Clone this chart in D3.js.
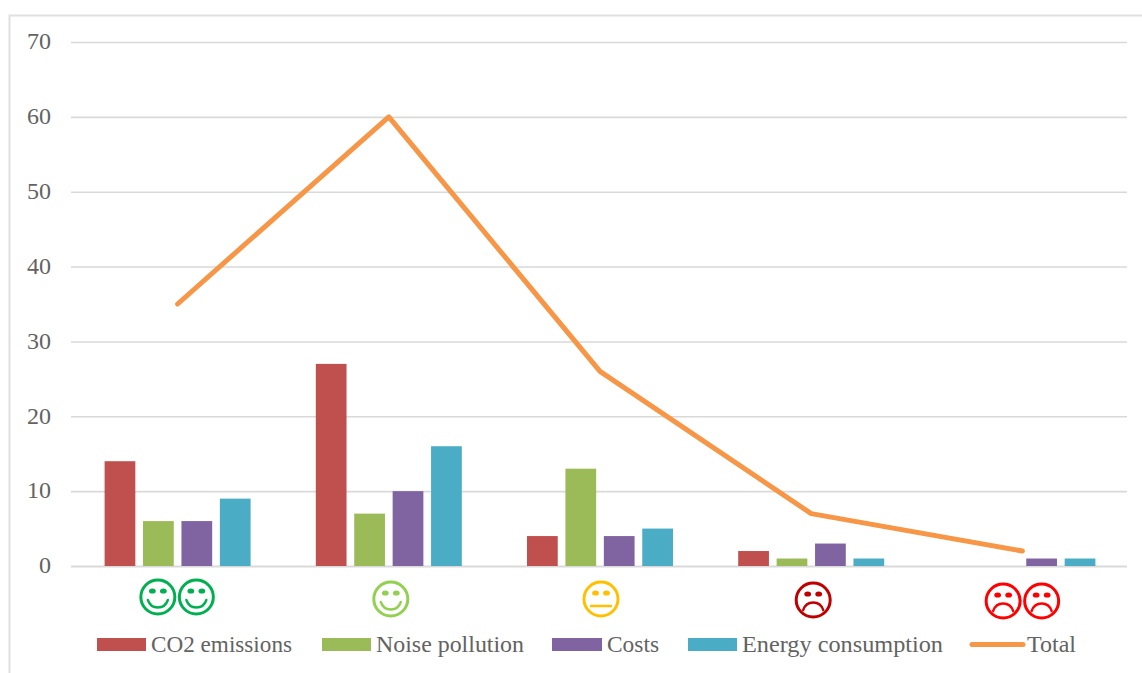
<!DOCTYPE html>
<html>
<head>
<meta charset="utf-8">
<script src="https://cdn.jsdelivr.net/npm/d3@7"></script>
<style>
  html, body { margin: 0; padding: 0; background: #fff; }
  svg { display: block; }
  text { font-family: "Liberation Serif", "DejaVu Serif", serif; fill: #636363; }
</style>
</head>
<body>
<svg id="chart" width="1142" height="673"></svg>
<script>
const moods = ["very good", "good", "neutral", "bad", "very bad"];
const seriesNames = ["CO2 emissions", "Noise pollution", "Costs", "Energy consumption"];
const co2Emissions = [14, 27, 4, 2, 0];
const noisePollution = [6, 7, 13, 1, 0];
const costs = [6, 10, 4, 3, 1];
const energyConsumption = [9, 16, 5, 1, 1];
const total = [35, 60, 26, 7, 2];
const yTicks = [0, 10, 20, 30, 40, 50, 60, 70];
const seriesColors = ["#c0504d", "#9bbb59", "#8064a2", "#4bacc6"];
const totalColor = "#f79646";
const moodFaces = [
  { shape: "happy", count: 2, color: "#00b050" },
  { shape: "happy", count: 1, color: "#92d050" },
  { shape: "neutral", count: 1, color: "#ffc000" },
  { shape: "sad", count: 1, color: "#c00000" },
  { shape: "sad", count: 2, color: "#ff0000" }
];
const seriesValues = [co2Emissions, noisePollution, costs, energyConsumption];

const svg = d3.select("#chart");
const x = d3.scaleBand().domain(moods).range([72, 1128]);
const y = d3.scaleLinear().domain([0, 70]).range([566, 42]);
const inner = d3.scaleBand().domain(seriesNames).range([-73, 73]).paddingInner(0.2);

// Chart frame: only the left and top edges fall inside the page
svg.append("path").attr("d", "M9.5,673V15.5H1142").attr("fill", "none")
  .attr("stroke", "#e0e0e0").attr("stroke-width", 2);

// Value axis with gridlines running the full plot width
const yAxis = svg.append("g").attr("transform", "translate(71,0)")
  .call(d3.axisLeft(y).tickValues(yTicks).tickSize(-1056).tickPadding(20));
yAxis.select(".domain").remove();
yAxis.selectAll(".tick line").attr("stroke", "#d9d9d9").attr("stroke-width", 1.6);
yAxis.selectAll(".tick text").attr("font-size", 24).attr("dy", "0.28em").style("fill", "#636363");
yAxis.selectAll(".tick").filter(d => d === 0).select("line").attr("stroke-width", 2.2);

// Clustered bars
seriesNames.forEach((name, s) => {
  svg.append("g").selectAll("rect")
    .data(seriesValues[s].map((v, i) => ({ v, mood: moods[i] })).filter(d => d.v > 0))
    .join("rect")
    .attr("x", d => x(d.mood) + x.bandwidth() / 2 + inner(name))
    .attr("y", d => y(d.v))
    .attr("width", inner.bandwidth())
    .attr("height", d => y(0) - y(d.v))
    .attr("fill", seriesColors[s]);
});

// Total line over the bars
const line = d3.line().x((d, i) => x(moods[i]) + x.bandwidth() / 2).y(d => y(d));
svg.append("path").datum(total).attr("d", line).attr("fill", "none")
  .attr("stroke", totalColor).attr("stroke-width", 5).attr("stroke-linecap", "round").attr("stroke-linejoin", "round");

// Mood faces as the category labels; each sits slightly off its band centre
function drawFace(g, shape, color) {
  const r = 17;
  g.append("circle").attr("r", r).attr("fill", "none").attr("stroke", color).attr("stroke-width", 3);
  [-5.5, 5.5].forEach(dx => g.append("ellipse").attr("cx", dx).attr("cy", -6)
    .attr("rx", 3.4).attr("ry", 2.6).attr("fill", color));
  const mouth = shape === "happy" ? "M-10,3C-8,9 -4,10.5 0,10.5C4,10.5 8,9 10,3"
    : shape === "sad" ? "M-10,10C-8,4 -4,2.5 0,2.5C4,2.5 8,4 10,10"
    : "M-10,7H10";
  g.append("path").attr("d", mouth).attr("fill", "none").attr("stroke", color)
    .attr("stroke-width", 2.4).attr("stroke-linecap", "round");
}
const faceNudge = [-0.5, 2, 1, 2, 0];
const faceRow = [597, 599, 599, 600, 601];
moods.forEach((m, i) => {
  const face = moodFaces[i];
  const cx = x(m) + x.bandwidth() / 2 + faceNudge[i];
  d3.range(face.count).forEach(k => {
    const g = svg.append("g")
      .attr("transform", `translate(${cx + (k - (face.count - 1) / 2) * 38.5},${faceRow[i]})`);
    drawFace(g, face.shape, face.color);
  });
});

// Legend; label widths are fitted so the entries keep their spacing
const legendItems = [
  { name: "CO2 emissions", sx: 97, sw: 49, tx: 151, tw: 141 },
  { name: "Noise pollution", sx: 322, sw: 49, tx: 376, tw: 148 },
  { name: "Costs", sx: 552, sw: 50, tx: 607, tw: 52 },
  { name: "Energy consumption", sx: 688, sw: 49, tx: 742, tw: 201 },
  { name: "Total", sx: 972, sw: 51, tx: 1027, tw: 49 }
];
const legend = svg.append("g");
legendItems.forEach((it, i) => {
  if (i < 4) {
    legend.append("rect").attr("x", it.sx).attr("y", 638).attr("width", it.sw).attr("height", 13).attr("fill", seriesColors[i]);
  } else {
    legend.append("line").attr("x1", it.sx).attr("x2", it.sx + it.sw).attr("y1", 644.5).attr("y2", 644.5)
      .attr("stroke", totalColor).attr("stroke-width", 5).attr("stroke-linecap", "round");
  }
  legend.append("text").attr("x", it.tx).attr("y", 652).attr("font-size", 24)
    .attr("textLength", it.tw).attr("lengthAdjust", "spacingAndGlyphs").text(it.name);
});
</script>
</body>
</html>
